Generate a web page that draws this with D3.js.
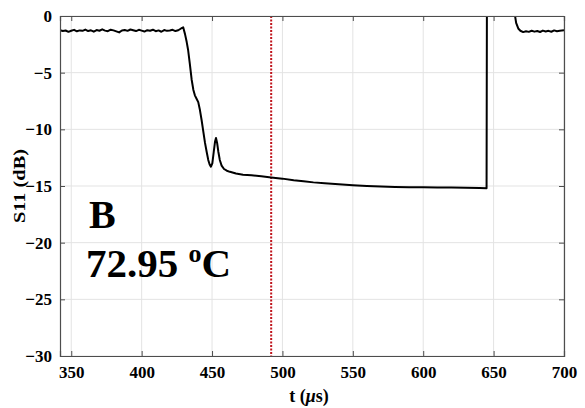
<!DOCTYPE html>
<html><head><meta charset="utf-8">
<script src="https://cdn.jsdelivr.net/npm/d3@7"></script>
<style>html,body{margin:0;padding:0;background:#fff;}</style>
</head><body>
<svg id="c" width="585" height="408"></svg>
<script>
// Data
const xTicks = [350, 400, 450, 500, 550, 600, 650, 700];
const yTicks = [0, -5, -10, -15, -20, -25, -30];
const markerT = 492;
const timeUs = [
  342,344,346,348,350,352,354,356,358,360,362,364,366,368,370,372,374,376,378,380,
  382,384,386,388,390,392,394,396,398,400,402,404,406,408,410,412,414,416,418,420,
  422,424,426,428,429.5,430.8,432,433,434.2,435.5,436.7,437.8,439,440.2,441.4,442.6,443.8,445,446.2,447.3,
  448.3,449.2,450.2,451.2,452.1,452.8,453.6,454.5,455.5,456.8,458.5,460.5,462.7,467,472,478,485,492,500,508,
  515,522,530,540,550,560,570,580,590,600,610,620,630,640,645,645.3,664,665,666,667.5,
  669,671,673,675,677,679,681,683,685,687,689,691,693,695,697,700
];
const s11dB = [
  -1.25,-1.32,-1.28,-1.40,-1.30,-1.22,-1.35,-1.27,-1.31,-1.20,-1.33,-1.26,-1.38,-1.24,-1.30,-1.18,-1.29,-1.34,-1.21,-1.27,
  -1.36,-1.45,-1.28,-1.23,-1.31,-1.19,-1.26,-1.33,-1.22,-1.29,-1.37,-1.25,-1.30,-1.21,-1.34,-1.27,-1.39,-1.24,-1.31,-1.28,
  -1.22,-1.33,-1.26,-1.10,-1.0,-1.6,-2.3,-3.0,-4.2,-5.6,-6.5,-7.0,-7.3,-7.6,-8.3,-9.2,-10.2,-11.2,-12.0,-12.7,
  -13.1,-13.3,-13.0,-12.0,-11.1,-10.77,-11.2,-12.0,-12.7,-13.2,-13.5,-13.65,-13.75,-13.9,-14.0,-14.05,-14.15,-14.25,-14.35,-14.5,
  -14.58,-14.68,-14.75,-14.85,-14.93,-15.0,-15.05,-15.08,-15.1,-15.12,-15.13,-15.14,-15.15,-15.17,-15.2,5,5,0.2,-0.6,-1.1,
  -1.3,-1.42,-1.35,-1.40,-1.30,-1.38,-1.33,-1.41,-1.29,-1.36,-1.31,-1.39,-1.27,-1.34,-1.30,-1.26
];
const annotLabel = "B";
const annotTemp = "72.95 ";

const svg = d3.select("#c");
const L = 60, R = 564, T = 16, B = 356;
const x = d3.scaleLinear().domain([342, 700]).range([L, R]);
const y = d3.scaleLinear().domain([-30, 0]).range([B, T]);
const font = "Liberation Serif";

// grid
svg.append("g").selectAll("line").data(xTicks).join("line")
  .attr("x1", d => x(d)).attr("x2", d => x(d)).attr("y1", T).attr("y2", B)
  .attr("stroke", "#e3e3e3").attr("stroke-width", 1);
svg.append("g").selectAll("line").data(yTicks).join("line")
  .attr("y1", d => y(d)).attr("y2", d => y(d)).attr("x1", L).attr("x2", R)
  .attr("stroke", "#e3e3e3").attr("stroke-width", 1);

// clip
svg.append("clipPath").attr("id", "clip").append("rect")
  .attr("x", L).attr("y", T).attr("width", R - L).attr("height", B - T);

// marker line
svg.append("line").attr("x1", x(markerT)).attr("x2", x(markerT))
  .attr("y1", T).attr("y2", B).attr("stroke", "#c0141c").attr("stroke-width", 2)
  .attr("stroke-dasharray", "2,1.5");

// data line
const line = d3.line().x((d, i) => x(timeUs[i])).y(d => y(d));
svg.append("path").datum(s11dB).attr("d", line).attr("clip-path", "url(#clip)")
  .attr("fill", "none").attr("stroke", "#000").attr("stroke-width", 2).attr("stroke-linejoin", "round");

// axes
const axCol = "#4d4d4d";
const xb = svg.append("g").attr("transform", `translate(0,${B})`)
  .call(d3.axisBottom(x).tickValues(xTicks).tickSize(-5).tickPadding(10).tickFormat(d3.format("d")));
const xt = svg.append("g").attr("transform", `translate(0,${T})`)
  .call(d3.axisTop(x).tickValues(xTicks).tickSize(-5).tickFormat(""));
const yl = svg.append("g").attr("transform", `translate(${L},0)`)
  .call(d3.axisLeft(y).tickValues(yTicks).tickSize(-5).tickPadding(8).tickFormat(d3.format("d")));
const yr = svg.append("g").attr("transform", `translate(${R},0)`)
  .call(d3.axisRight(y).tickValues(yTicks).tickSize(-5).tickFormat(""));
[xb, xt, yl, yr].forEach(g => {
  g.attr("font-family", font);
  g.selectAll("path").attr("stroke", axCol).attr("stroke-width", 1.2);
  g.selectAll("line").attr("stroke", axCol);
  g.selectAll("text").attr("fill", "#000").attr("font-family", font)
    .attr("font-weight", "bold").attr("font-size", 17);
});
xb.selectAll("text").attr("dy", "0.71em");

// axis labels
const xl = svg.append("text").attr("x", 309).attr("y", 402).attr("text-anchor", "middle")
  .attr("font-family", font).attr("font-weight", "bold").attr("font-size", 18);
xl.append("tspan").text("t (");
xl.append("tspan").attr("font-style", "italic").text("\u03bc");
xl.append("tspan").text("s)");
svg.append("text").attr("transform", "translate(25,186) rotate(-90)").attr("text-anchor", "middle")
  .attr("font-family", font).attr("font-weight", "bold").attr("font-size", 16)
  .attr("textLength", 74).attr("lengthAdjust", "spacingAndGlyphs").text("S11 (dB)");

// annotation
svg.append("text").attr("x", 89).attr("y", 228)
  .attr("font-family", font).attr("font-weight", "bold").attr("font-size", 40).text(annotLabel);
const at = svg.append("text").attr("x", 86).attr("y", 277)
  .attr("font-family", font).attr("font-weight", "bold").attr("font-size", 41);
at.append("tspan").text(annotTemp);
at.append("tspan").attr("dy", -15).attr("font-size", 26).text("o");
at.append("tspan").attr("dy", 15).text("C");
</script>
</body></html>
